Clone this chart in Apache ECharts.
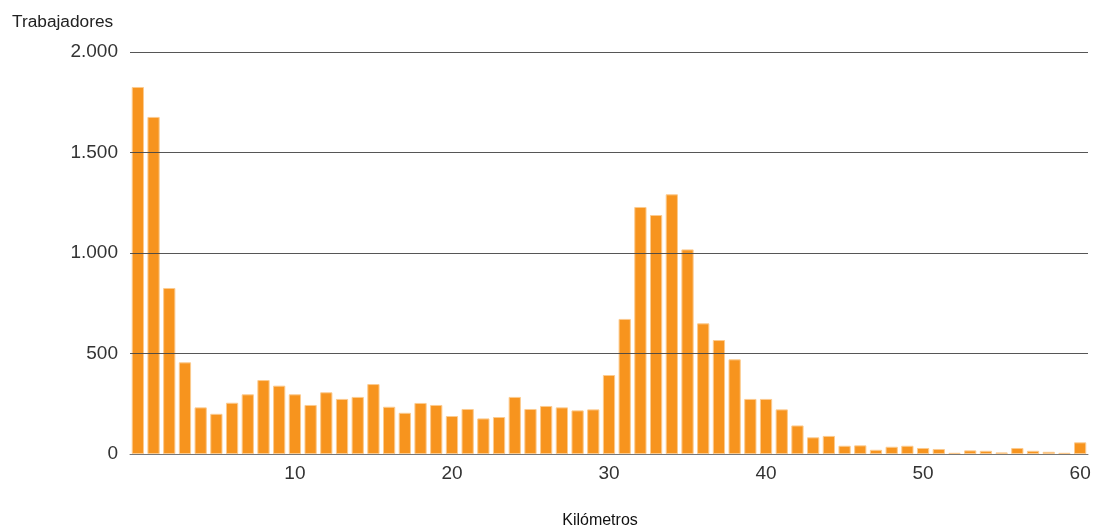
<!DOCTYPE html>
<html><head><meta charset="utf-8">
<script src="https://cdn.jsdelivr.net/npm/echarts@6/dist/echarts.min.js"></script>
<style>html,body{margin:0;padding:0;background:#fff;overflow:hidden}#c{width:1094px;height:530px}</style>
</head><body><div id="c"></div>
<script>
const km = [];
for (let i = 0; i <= 60; i++) km.push(String(i));
const workers = [1826,1677,826,456,232,200,255,297,368,340,
  297,244,307,274,284,348,235,205,254,244,
  189,224,177,184,284,224,239,232,217,222,
  393,672,1229,1189,1292,1018,650,567,471,274,
  274,222,142,83,90,41,43,21,36,41,
  30,25,6,18,16,8,30,16,11,6,
  58];
const yTicks = [0,500,1000,1500,2000];
const yName = 'Trabajadores';
const xName = 'Kilómetros';
const fmt = v => v === 0 ? '0' : String(v).replace(/\B(?=(\d{3})+(?!\d))/g, '.');
const FONT = 'Liberation Sans';
const chart = echarts.init(document.getElementById('c'), null, {renderer:'canvas'});
chart.setOption({
  animation:false,
  textStyle:{fontFamily:FONT},
  grid:{left:130,right:6,top:52,bottom:76},
  graphic:[
    {type:'text',x:12,y:22,style:{text:yName,font:'17.3px '+FONT,fill:'#222',textVerticalAlign:'middle'}},
    {type:'text',x:600,y:521,style:{text:xName,font:'16px '+FONT,fill:'#111',textAlign:'center',textVerticalAlign:'middle'}},
  ],
  xAxis:{
    type:'category',data:km,boundaryGap:true,
    axisLine:{show:true,lineStyle:{color:'#777',width:1}},
    axisTick:{show:false},
    axisLabel:{fontSize:19,color:'#333',margin:10,
      interval:(i,v)=>Number(v)%10===0 && Number(v)!==0},
  },
  yAxis:{
    type:'value',min:0,max:2000,interval:500,
    axisLine:{show:false},axisTick:{show:false},
    splitLine:{show:false},
    axisLabel:{fontSize:19,color:'#333',margin:12,formatter:fmt},
  },
  series:[{
    type:'bar',data:workers,barCategoryGap:'22%',
    itemStyle:{color:'#F7941E',borderColor:'#FCCB8F',borderWidth:1},
    markLine:{
      silent:true,symbol:'none',label:{show:false},
      lineStyle:{color:'#444',width:1,type:'solid',opacity:0.9},
      data:yTicks.filter(v=>v>0).map(v=>({yAxis:v})),
    }
  }]
});
</script></body></html>
